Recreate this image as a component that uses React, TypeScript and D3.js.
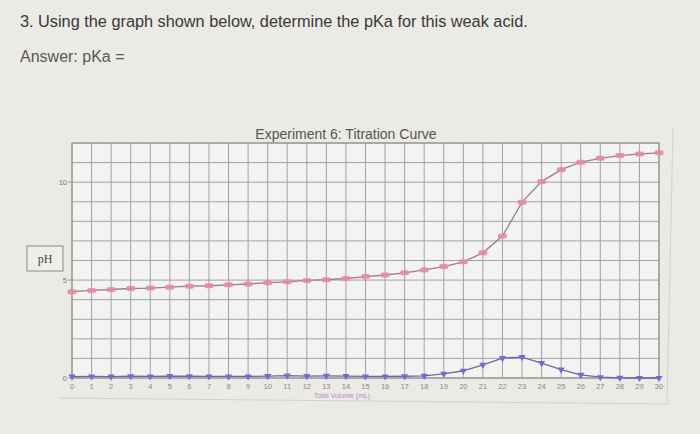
import React from "react";
import * as d3 from "d3";

const volumes = [0,1,2,3,4,5,6,7,8,9,10,11,12,13,14,15,16,17,18,19,20,21,22,23,24,25,26,27,28,29,30];
const phValues = [4.41,4.47,4.52,4.57,4.59,4.64,4.69,4.71,4.76,4.80,4.87,4.91,4.98,5.02,5.08,5.18,5.26,5.37,5.52,5.69,5.93,6.39,7.25,8.98,10.03,10.64,11.02,11.22,11.36,11.44,11.5];
const derivValues = [0.07,0.08,0.07,0.09,0.08,0.1,0.09,0.08,0.08,0.08,0.1,0.12,0.1,0.11,0.1,0.08,0.08,0.09,0.11,0.21,0.37,0.67,1.02,1.07,0.76,0.43,0.16,0.04,0.01,0.0,0.0];
const yTickLabels = [0, 5, 10];
const xTickLabels = volumes;

export default function App() {
  const W = 700, H = 434;
  const x = d3.scaleLinear().domain([0, 30]).range([72, 659]);
  const y = d3.scaleLinear().domain([0, 12]).range([378, 143]);
  const gridX = d3.range(0, 31);
  const gridY = d3.range(0, 13);
  const line = d3.line<number>().x((_, i) => x(volumes[i])).y(d => y(d));
  const tri = d3.symbol().type(d3.symbolTriangle).size(22)();

  return (
    <svg width={W} height={H} style={{ position: "absolute", left: 0, top: 0, display: "block" }}>
      <rect x={0} y={0} width={W} height={H} fill="#ebeae5" />
      <text x={20} y={27} fontFamily="Liberation Sans, Arial, sans-serif" fontSize={16.3} fill="#383838">3. Using the graph shown below, determine the pKa for this weak acid.</text>
      <text x={20} y={62} fontFamily="Liberation Sans, Arial, sans-serif" fontSize={16} fill="#585858">Answer:  pKa =</text>

      {/* outer chart frame */}
      <line x1={60} x2={670} y1={398} y2={404} stroke="#d2d2ce" strokeWidth={1} />
      <line x1={673} x2={667} y1={128} y2={404} stroke="#d2d2ce" strokeWidth={1} />

      <rect x={x(0)} y={y(12)} width={x(30) - x(0)} height={y(0) - y(12)} fill="#f3f3f1" />
      {gridX.map(g => (
        <line key={"gx" + g} x1={x(g)} x2={x(g)} y1={y(12)} y2={y(0)} stroke="#a2a2a2" strokeWidth={1} />
      ))}
      {gridY.map(g => (
        <line key={"gy" + g} x1={x(0)} x2={x(30)} y1={y(g)} y2={y(g)} stroke="#a2a2a2" strokeWidth={1} />
      ))}
      <rect x={x(0)} y={y(12)} width={x(30) - x(0)} height={y(0) - y(12)} fill="none" stroke="#8a8a8a" strokeWidth={1} />

      <text x={346} y={139} textAnchor="middle" fontFamily="Liberation Sans, Arial, sans-serif" fontSize={14} fill="#555">Experiment 6:  Titration Curve</text>

      {yTickLabels.map(t => (
        <g key={"yt" + t}>
          <line x1={x(0) - 4} x2={x(0)} y1={y(t)} y2={y(t)} stroke="#999" />
          <text x={x(0) - 5} y={y(t) + 2.5} textAnchor="end" fontFamily="Liberation Sans, Arial, sans-serif" fontSize={7.5} fill="#777">{t}</text>
        </g>
      ))}
      {xTickLabels.map(t => (
        <text key={"xt" + t} x={x(t)} y={y(0) + 11} textAnchor="middle" fontFamily="Liberation Sans, Arial, sans-serif" fontSize={7.5} fill="#888">{t}</text>
      ))}
      <text x={342} y={398} textAnchor="middle" fontFamily="Liberation Sans, Arial, sans-serif" fontSize={7} fill="#b38ac4">Total Volume (mL)</text>

      <rect x={27} y={246} width={36} height={25} fill="#efeeea" stroke="#8a8a8a" strokeWidth={1} />
      <text x={45} y={263} textAnchor="middle" fontFamily="Liberation Serif, DejaVu Serif, serif" fontSize={12} fill="#444">pH</text>

      <path d={line(derivValues) || ""} fill="none" stroke="#6a6a9a" strokeWidth={1.3} />
      {derivValues.map((v, i) => (
        <path key={"d" + i} d={tri || ""} transform={`translate(${x(volumes[i])},${y(v)}) rotate(180)`} fill="#6e6ed2" />
      ))}

      <path d={line(phValues) || ""} fill="none" stroke="#a07a8a" strokeWidth={1.3} />
      {phValues.map((v, i) => (
        <rect key={"p" + i} x={x(volumes[i]) - 4.5} y={y(v) - 2.5} width={9} height={5} rx={2} fill="#e58aa6" opacity={0.9} />
      ))}
    </svg>
  );
}
